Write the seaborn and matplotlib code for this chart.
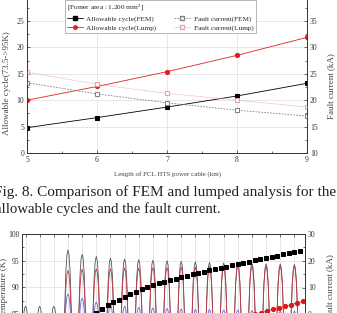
import matplotlib
matplotlib.use("Agg")
import matplotlib.pyplot as plt
import numpy as np
import pandas as pd
import seaborn as sns
from matplotlib.lines import Line2D
from matplotlib.ticker import MultipleLocator

# --- Fig. 8 data (top panel) ---
lengths = [5, 6, 7, 8, 9]
cycle_fem = [4.8, 6.7, 8.7, 10.8, 13.2]
cycle_lump = [10.0, 12.6, 15.4, 18.5, 21.9]
fault_fem = [23.3, 21.2, 19.5, 18.1, 17.0]
fault_lump = [25.3, 23.0, 21.3, 20.0, 18.7]

# --- next figure (bottom panel, cropped) ---
cycles = list(range(20))
peak_grey = [86.5, 86.5, 86.5, 97.0, 96.2, 95.8, 95.5, 95.3, 95.2, 95.1, 95.0,
             94.9, 94.8, 94.7, 94.6, 94.5, 94.5, 94.4, 94.4, 94.3]
peak_red = [None, None, None, 93.2, 93.4, 93.5, 93.5, 93.6, 93.6, 93.7, 93.7,
            93.8, 93.8, 93.9, 93.9, 94.0, 94.0, 94.0, 94.0, 94.0]
peak_blue = [None, None, None, 88.8, 88.0, 87.3, 86.8, 86.5, 86.3, 86.2, 86.1,
             86.0, 85.9, 85.9, 85.8, 85.8, 85.7, 85.7, 85.6, 85.6]
pulse_base = 77.0
pulse_offsets = [-0.38, -0.3, -0.22, -0.15, -0.07, 0.0, 0.07, 0.15, 0.22, 0.3, 0.38]
pulse_shape = [0.0, 0.2, 0.5, 0.8, 0.96, 1.0, 0.96, 0.8, 0.5, 0.2, 0.0]

sq_t = np.linspace(5.0, 19.4, 37)
sq_current = [0.5, 1.9, 3.3, 4.4, 5.5, 6.6, 7.5, 8.4, 9.3, 10.1, 10.8, 11.5, 12.1,
              12.7, 13.3, 13.9, 14.4, 14.9, 15.4, 15.9, 16.4, 16.9, 17.4, 17.8,
              18.3, 18.8, 19.2, 19.7, 20.1, 20.6, 21.0, 21.5, 21.9, 22.4, 22.8,
              23.3, 23.8]
rc_t = np.linspace(16.2, 19.6, 9)
rc_current = [0.0, 0.6, 1.2, 1.8, 2.4, 3.0, 3.6, 4.2, 4.8]

sns.set_theme(style="ticks")
plt.rcParams["font.family"] = ["Liberation Serif", "DejaVu Serif"]
plt.rcParams["mathtext.fontset"] = "stix"

W, H = 337, 313
fig = plt.figure(figsize=(W / 100, H / 100), dpi=100)


def px_axes(x0, x1, ytop, ybot):
    return fig.add_axes([x0 / W, (H - ybot) / H, (x1 - x0) / W, (ybot - ytop) / H])


GRID = "#e4e4e4"
FS = 5.5

# ---------------- top panel ----------------
ax = px_axes(27, 307, -5.4, 153)
ax2 = ax.twinx()
sns.lineplot(x=lengths, y=cycle_fem, ax=ax, color="black", marker="s",
             markersize=3, markeredgecolor="black", linewidth=0.6)
sns.lineplot(x=lengths, y=cycle_lump, ax=ax, color="#e02020", marker="o",
             markersize=3, markeredgecolor="#e02020", linewidth=0.6)
sns.lineplot(x=lengths, y=fault_fem, ax=ax2, color="#808080", marker="s",
             markersize=3, markerfacecolor="white", markeredgecolor="#808080",
             linewidth=0.6, linestyle=(0, (2, 1.5)))
sns.lineplot(x=lengths, y=fault_lump, ax=ax2, color="#e8a0a0", marker="s",
             markersize=3, markerfacecolor="white", markeredgecolor="#e8a0a0",
             linewidth=0.6, linestyle=(0, (1, 1)))
ax.set_xlim(5, 9)
ax.set_ylim(0, 30)
ax2.set_ylim(10, 40)
ax.xaxis.set_major_locator(MultipleLocator(1))
ax.xaxis.set_minor_locator(MultipleLocator(0.5))
ax.yaxis.set_minor_locator(MultipleLocator(2.5))
ax2.yaxis.set_minor_locator(MultipleLocator(2.5))
ax.set_yticks([0, 5, 10, 15, 20, 25])
ax2.set_yticks([10, 15, 20, 25, 30, 35])
ax.grid(True, color=GRID, linewidth=0.6)
ax.set_axisbelow(True)
for a in (ax, ax2):
    a.tick_params(which="both", direction="in", labelsize=FS, width=0.5, pad=2,
                  colors="#333333")
    a.tick_params(which="major", length=2.5)
    a.tick_params(which="minor", length=1.5)
    for s in a.spines.values():
        s.set_linewidth(0.6)
        s.set_color("#333333")
ax.set_xlabel("Length of FCL HTS power cable (km)", fontsize=5, color="#444444",
              labelpad=5)
ax.set_ylabel("Allowable cycle(73.5->95K)", fontsize=6.5, color="#444444")
ax.yaxis.set_label_coords(-0.058, 0.44)
ax2.set_ylabel("Fault current (kA)", fontsize=6.5, color="#444444")
ax2.yaxis.set_label_coords(1.072, 0.42)

handles = [
    Line2D([], [], color="black", marker="s", markersize=2.5, linewidth=0.6),
    Line2D([], [], color="#e02020", marker="o", markersize=2.5, linewidth=0.6),
    Line2D([], [], color="#808080", marker="s", markersize=2.5, markerfacecolor="white",
           linewidth=0.6, linestyle=(0, (2, 1.5))),
    Line2D([], [], color="#e8a0a0", marker="s", markersize=2.5, markerfacecolor="white",
           linewidth=0.6, linestyle=(0, (1, 1))),
]
labels = ["Allowable cycle(FEM)", "Allowable cycle(Lump)",
          "Fault current(FEM)", "Fault current(Lump)"]
leg = ax.legend(handles, labels, ncol=2, title="[Fomer area : 1,200 mm$^2$]",
                loc="upper left", bbox_to_anchor=(61 / W, 1.012),
                bbox_transform=fig.transFigure, fontsize=5.2, title_fontsize=5.2,
                alignment="left", frameon=True, fancybox=False, framealpha=1,
                edgecolor="#999999", handlelength=2.2, handletextpad=0.5,
                columnspacing=2.5, labelspacing=0.35, borderpad=0.3)
leg.get_frame().set_linewidth(0.5)

# ---------------- caption ----------------
fig.text(-6 / W, (H - 192) / H, "Fig. 8. Comparison of FEM and lumped analysis for the",
         fontsize=11.0, va="center", ha="left", color="#222222")
fig.text(-5 / W, (H - 209) / H, "allowable cycles and the fault current.",
         fontsize=10.6, va="center", ha="left", color="#222222")

# ---------------- bottom panel (cropped next figure) ----------------
bx = px_axes(22, 305, 234, 341)
bx2 = bx.twinx()


def pulse_frame(peaks):
    rows = []
    for c, p in zip(cycles, peaks):
        if p is None:
            continue
        for dt, f in zip(pulse_offsets, pulse_shape):
            rows.append({"pulse": c, "t": c + dt, "T": pulse_base + (p - pulse_base) * f})
    return pd.DataFrame(rows)


sns.lineplot(data=pulse_frame(peak_grey), x="t", y="T", units="pulse", estimator=None,
             sort=False, ax=bx, color="#555555", linewidth=0.6)
sns.lineplot(data=pulse_frame(peak_red), x="t", y="T", units="pulse", estimator=None,
             sort=False, ax=bx, color="#c03848", linewidth=0.6)
sns.lineplot(data=pulse_frame(peak_blue), x="t", y="T", units="pulse", estimator=None,
             sort=False, ax=bx, color="#6a6ad8", linewidth=0.6)
sns.lineplot(x=sq_t, y=sq_current, ax=bx2, color="black", marker="s", markersize=3,
             linewidth=0, markeredgecolor="black")
sns.lineplot(x=rc_t, y=rc_current, ax=bx2, color="#e01818", marker="o", markersize=3,
             linewidth=0.5, markeredgecolor="#e01818")
bx.set_xlim(-0.25, 19.75)
bx.set_ylim(80, 100)
bx2.set_ylim(-10, 30)
bx.set_xticks(cycles)
bx.set_xticklabels([])
bx.set_yticks([85, 90, 95, 100])
bx2.set_yticks([0, 10, 20, 30])
bx2.yaxis.set_minor_locator(MultipleLocator(5))
bx.yaxis.set_minor_locator(MultipleLocator(2.5))
bx.grid(True, color=GRID, linewidth=0.6)
bx.set_axisbelow(True)
bx.tick_params(axis="x", top=True, bottom=False)
for a in (bx, bx2):
    a.tick_params(which="both", direction="in", labelsize=FS, width=0.5, pad=2,
                  colors="#333333")
    a.tick_params(which="major", length=2.5)
    a.tick_params(which="minor", length=1.5)
    for s in a.spines.values():
        s.set_linewidth(0.6)
        s.set_color("#333333")
bx.set_ylabel("Temperature (K)", fontsize=6.5, color="#444444")
bx.yaxis.set_label_coords(-0.05, 0.5)
bx2.set_ylabel("Fault current (kA)", fontsize=6.5, color="#444444")
bx2.yaxis.set_label_coords(1.075, 0.5)

fig.savefig("out.png", dpi=100)
